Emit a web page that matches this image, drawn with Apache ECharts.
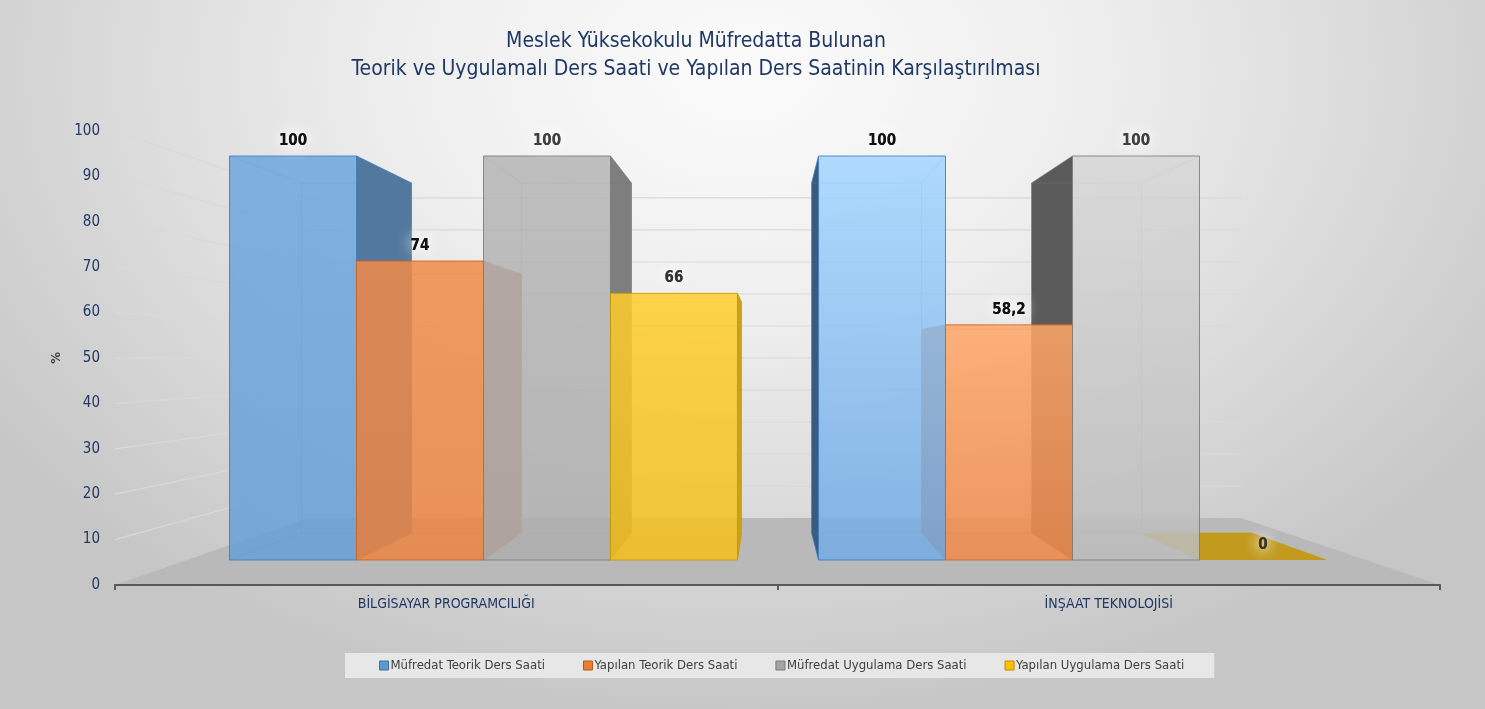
<!DOCTYPE html>
<html>
<head>
<meta charset="utf-8">
<title>Ders Saati Karşılaştırması</title>
<script src="https://cdn.jsdelivr.net/npm/echarts@6/dist/echarts.min.js"></script>
<style>
  html, body { margin: 0; padding: 0; }
  #chart {
    width: 1485px;
    height: 709px;
    background: radial-gradient(ellipse 62% 92% at 50% 10%, #fbfbfb 0%, #eeeeee 38%, #d8d8d8 72%, #c6c6c6 100%);
  }
</style>
</head>
<body>
<div id="chart"></div>
<script>
// data
const categories = ['BİLGİSAYAR PROGRAMCILIĞI', 'İNŞAAT TEKNOLOJİSİ'];
const seriesNames = ['Müfredat Teorik Ders Saati', 'Yapılan Teorik Ders Saati', 'Müfredat Uygulama Ders Saati', 'Yapılan Uygulama Ders Saati'];
const mufredatTeorik = [100, 100];
const yapilanTeorik = [74, 58.2];
const mufredatUygulama = [100, 100];
const yapilanUygulama = [66, 0];
const yTicks = [0, 10, 20, 30, 40, 50, 60, 70, 80, 90, 100];

const seriesValues = [mufredatTeorik, yapilanTeorik, mufredatUygulama, yapilanUygulama];

// look
const FONT = "'Liberation Sans Narrow', 'DejaVu Sans Condensed', 'Open Sans', sans-serif";
const NAVY = '#1f3864';
const VP = [767, 358];          // vanishing point of the 3d box
const WALL_DEPTH = 0.705;       // back wall scale
const BAR_DEPTH = 0.866;        // back face of the bars
const BAR_RATIO = 0.2156;       // bar width / category band
const PALETTE = ['#5b9bd5', '#ed7d31', '#a5a5a5', '#ffc000'];
const LEGEND_BORDER = ['#41719c', '#ae5a21', '#787878', '#bc8c00'];
// [series][category] -> [top, bottom]
const FRONT = [
  [['#6ea6db', '#68a0d5'], ['#a3d4fe', '#74abe3']],
  [['#f08b4a', '#eb8544'], ['#fea667', '#f08a4b']],
  [['#b5b5b5', '#aeaeae'], ['#d6d6d6', '#bcbcbc']],
  [['#fecd2e', '#f3bf1c'], ['#fecd2e', '#f3bf1c']]
];
const SIDE = [['#52799d', '#3b5b7d'], ['#b0603a', '#c0622a'], ['#7e7e7e', '#5a5a5a'], ['#c9a21a', '#c29a1e']];
const EDGE = ['#3f7cc0', '#c9621f', '#7a7a7a', '#c49b00'];
const LABEL = ['#111', '#111', '#404040', '#333'];

function toBack(p, k) {
  return [VP[0] + (p[0] - VP[0]) * k, VP[1] + (p[1] - VP[1]) * k];
}

function fmt(v) {
  return String(v).replace('.', ',');
}

function barBox(si, api) {
  const cat = api.value(0);
  const v = api.value(1);
  const base = api.coord([cat, 0]);
  const top = api.coord([cat, v]);
  const bw = api.size([1, 0])[0] * BAR_RATIO;
  const x0 = base[0] + (si - 2) * bw;
  const x1 = x0 + bw;
  return { cat, v, x0, x1, yT: top[1], yB: base[1] };
}

function sideItem(si) {
  return function (params, api) {
    const b = barBox(si, api);
    const tl = toBack([b.x0, b.yT], BAR_DEPTH), tr = toBack([b.x1, b.yT], BAR_DEPTH);
    const bl = toBack([b.x0, b.yB], BAR_DEPTH), br = toBack([b.x1, b.yB], BAR_DEPTH);
    const sideColor = SIDE[si][b.cat];
    const children = [];
    if (b.x1 < VP[0]) {
      children.push({ type: 'polygon', shape: { points: [[b.x1, b.yT], tr, br, [b.x1, b.yB]] },
        style: { fill: sideColor, stroke: EDGE[si], lineWidth: 0.6 } });
    } else if (b.x0 > VP[0]) {
      children.push({ type: 'polygon', shape: { points: [[b.x0, b.yT], tl, bl, [b.x0, b.yB]] },
        style: { fill: sideColor, stroke: EDGE[si], lineWidth: 0.6 } });
    }
    if (b.yT > VP[1]) {
      children.push({ type: 'polygon', shape: { points: [[b.x0, b.yT], [b.x1, b.yT], tr, tl] },
        style: { fill: sideColor } });
    }
    const edge = { stroke: EDGE[si], lineWidth: 1, opacity: 0.35 };
    children.push({ type: 'polyline', shape: { points: [tl, tr, br, bl, tl] }, style: Object.assign({ fill: null }, edge) });
    [[[b.x0, b.yT], tl], [[b.x1, b.yT], tr], [[b.x0, b.yB], bl], [[b.x1, b.yB], br]].forEach(function (seg) {
      children.push({ type: 'line', shape: { x1: seg[0][0], y1: seg[0][1], x2: seg[1][0], y2: seg[1][1] }, style: edge });
    });
    return { type: 'group', children: children };
  };
}

function frontItem(si) {
  return function (params, api) {
    const b = barBox(si, api);
    const c = FRONT[si][b.cat];
    const children = [];
    if (b.yB - b.yT > 0.5) {
      children.push({
        type: 'rect',
        shape: { x: b.x0, y: b.yT, width: b.x1 - b.x0, height: b.yB - b.yT },
        style: {
          fill: new echarts.graphic.LinearGradient(0, 0, 0, 1, [
            { offset: 0, color: c[0] }, { offset: 1, color: c[1] }
          ]),
          opacity: 0.86,
          stroke: EDGE[si],
          lineWidth: 1
        }
      });
    }
    const labelStyle = {
      text: fmt(b.v),
      align: 'center',
      verticalAlign: 'middle',
      fill: LABEL[si],
      font: 'bold 15px ' + FONT,
      textShadowColor: '#ffffff',
      textShadowBlur: 14
    };
    // drawn twice so the white halo is as strong as in the original
    children.push({ type: 'text', x: (b.x0 + b.x1) / 2, y: b.yT - 15, style: labelStyle });
    children.push({ type: 'text', x: (b.x0 + b.x1) / 2, y: b.yT - 15, style: labelStyle });
    return { type: 'group', children: children };
  };
}

function wallItem(params, api) {
  const cs = params.coordSys;
  const v = api.value(1);
  const y = api.coord([0, v])[1];
  const fl = [cs.x, y], fr = [cs.x + cs.width, y];
  const bl = toBack(fl, WALL_DEPTH), br = toBack(fr, WALL_DEPTH);
  if (v === 0) {
    return { type: 'polygon', shape: { points: [fl, fr, br, bl] }, style: { fill: '#b9b9b9' } };
  }
  const line = { stroke: '#d9d9d9', lineWidth: 1.2 };
  return {
    type: 'group',
    children: [
      { type: 'line', shape: { x1: fl[0], y1: fl[1], x2: bl[0], y2: bl[1] }, style: line },
      { type: 'line', shape: { x1: bl[0], y1: bl[1], x2: br[0], y2: br[1] }, style: line }
    ]
  };
}

const series = [{
  type: 'custom',
  name: 'walls',
  xAxisIndex: 0,
  yAxisIndex: 0,
  z: 1,
  silent: true,
  renderItem: wallItem,
  data: yTicks.map(function (v) { return [0, v]; })
}];

seriesValues.forEach(function (vals, si) {
  const data = vals.map(function (v, i) { return [i, v]; });
  series.push({
    type: 'custom', name: seriesNames[si], xAxisIndex: 1, yAxisIndex: 1, z: 2,
    itemStyle: { color: PALETTE[si] }, renderItem: sideItem(si), data: data
  });
});
seriesValues.forEach(function (vals, si) {
  const data = vals.map(function (v, i) { return [i, v]; });
  series.push({
    type: 'custom', name: seriesNames[si], xAxisIndex: 1, yAxisIndex: 1, z: 3,
    itemStyle: { color: PALETTE[si] }, renderItem: frontItem(si), data: data
  });
});

const chart = echarts.init(document.getElementById('chart'), null, { renderer: 'canvas' });

chart.setOption({
  backgroundColor: 'transparent',
  color: PALETTE,
  animation: false,
  graphic: [{
    type: 'text',
    x: 696,
    y: 28,
    style: {
      text: 'Meslek Yüksekokulu Müfredatta Bulunan\nTeorik ve Uygulamalı Ders Saati ve Yapılan Ders Saatinin Karşılaştırılması',
      align: 'center',
      font: '21px ' + FONT,
      lineHeight: 28,
      fill: NAVY
    }
  }],
  legend: {
    data: seriesNames.map(function (n, i) {
      return { name: n, itemStyle: { color: PALETTE[i], borderColor: LEGEND_BORDER[i], borderWidth: 1 } };
    }),
    left: 345,
    top: 653,
    padding: [6, 30, 6, 34],
    backgroundColor: '#e7e7e7',
    icon: 'rect',
    itemWidth: 9,
    itemHeight: 9,
    itemGap: 38,
    textStyle: { color: '#404040', fontSize: 13, fontFamily: FONT, padding: [0, 0, 0, -3] }
  },
  grid: [
    { left: 115, right: 45, top: 131, bottom: 124 },
    { left: 189, right: 118, top: 156, bottom: 149 }
  ],
  xAxis: [{
    type: 'category',
    gridIndex: 0,
    data: categories,
    z: 5,
    axisLine: { lineStyle: { color: '#595959', width: 2 } },
    axisTick: { show: true, length: 5, lineStyle: { color: '#595959', width: 2 } },
    axisLabel: { color: NAVY, fontSize: 14, fontFamily: FONT, margin: 12 }
  }, {
    type: 'category',
    gridIndex: 1,
    data: categories,
    show: false
  }],
  yAxis: [{
    type: 'value',
    gridIndex: 0,
    min: 0,
    max: 100,
    interval: 10,
    name: '%',
    nameLocation: 'middle',
    nameGap: 47,
    nameRotate: 90,
    nameTextStyle: { color: '#404040', fontSize: 13, fontWeight: 'bold', fontFamily: FONT },
    axisLine: { show: false },
    axisTick: { show: false },
    splitLine: { show: false },
    axisLabel: { color: NAVY, fontSize: 15, fontFamily: FONT, margin: 15 }
  }, {
    type: 'value',
    gridIndex: 1,
    min: 0,
    max: 100,
    show: false,
    splitLine: { show: false }
  }],
  series: series
});
</script>
</body>
</html>
